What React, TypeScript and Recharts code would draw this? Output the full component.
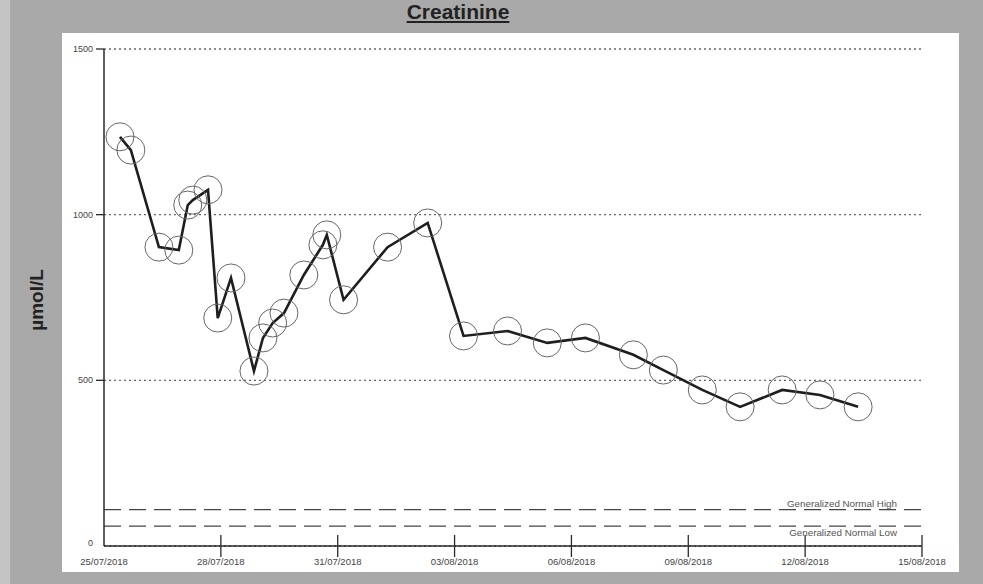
import { CartesianGrid, Line, LineChart, ReferenceLine, XAxis, YAxis } from 'recharts';

const W = 983;
const H = 584;
const FONT = '"Liberation Sans", Arial, sans-serif';
const INK = '#2a2a2a';

// days since 25/07/2018
const dayOffsets = [
  0.41, 0.69, 1.41, 1.92, 2.15, 2.28, 2.67, 2.92, 3.26, 3.85, 4.08, 4.33, 4.62, 5.13, 5.62, 5.72, 6.15, 7.28, 8.31,
  9.23, 10.36, 11.38, 12.36, 13.59, 14.36, 15.36, 16.33, 17.41, 18.38, 19.36,
];
const creatinine = [
  1235, 1195, 902, 893, 1029, 1044, 1075, 688, 809, 528, 628, 673, 703, 818, 909, 939, 743, 902, 975, 634, 649, 613, 628,
  577, 531, 471, 420, 471, 456, 420,
];

const xTicks = [0, 3, 6, 9, 12, 15, 18, 21];
const xTickLabels = ['25/07/2018', '28/07/2018', '31/07/2018', '03/08/2018', '06/08/2018', '09/08/2018', '12/08/2018', '15/08/2018'];
const yTicks = [0, 500, 1000, 1500];
const normalHigh = 110;
const normalLow = 60;

const data = dayOffsets.map((day, i) => ({ day, value: creatinine[i] }));

function XTick({ x, y, payload }: any) {
  const label = xTickLabels[xTicks.indexOf(payload.value)] ?? '';
  // y here = axis + tickSize(11) + tickMargin(4)
  return (
    <g>
      {payload.value !== 0 && <line x1={x} x2={x} y1={y - 26} y2={y - 4} stroke={INK} strokeWidth={1.3} />}
      <text x={x} y={y} dy={4} textAnchor="middle" fontSize={9.5} fill="#444" fontFamily={FONT}>
        {label}
      </text>
    </g>
  );
}

function YTick({ x, y, payload }: any) {
  // x here = axis - tickSize(8) - tickMargin(3)
  return (
    <g>
      {payload.value !== 0 && <line x1={x + 3} x2={x + 11} y1={y} y2={y} stroke={INK} strokeWidth={1.3} />}
      <text x={x} y={payload.value === 0 ? y - 3 : y} dy={3} textAnchor="end" fontSize={9} fill="#444" fontFamily={FONT}>
        {payload.value}
      </text>
    </g>
  );
}

function NormalLabel({ viewBox, text, above }: any) {
  const vx = viewBox.x + viewBox.width - 25;
  return (
    <text x={vx} y={viewBox.y + (above ? -3 : 10)} textAnchor="end" fontSize={9.8} fill="#555" fontFamily={FONT}>
      {text}
    </text>
  );
}

export default function App() {
  return (
    <div style={{ position: 'absolute', left: 0, top: 0, width: W, height: H, background: '#a9a9a9', overflow: 'hidden' }}>
      <div style={{ position: 'absolute', left: 0, top: 0, width: 10, height: H, background: '#c4c4c4' }} />
      <div style={{ position: 'absolute', left: 62, top: 33, width: 897, height: 539, background: '#ffffff' }} />
      <div
        style={{
          position: 'absolute',
          left: 358,
          width: 200,
          top: 0,
          textAlign: 'center',
          fontFamily: FONT,
          fontWeight: 'bold',
          fontSize: 21,
          textDecoration: 'underline',
          color: '#222',
        }}
      >
        Creatinine
      </div>
      <div
        style={{
          position: 'absolute',
          left: 37,
          top: 300,
          transform: 'translate(-50%, -50%) rotate(-90deg)',
          fontFamily: FONT,
          fontWeight: 'bold',
          fontSize: 19,
          color: '#222',
          whiteSpace: 'nowrap',
        }}
      >
        µmol/L
      </div>
      <div style={{ position: 'absolute', left: 0, top: 0 }}>
        <LineChart width={W} height={H} data={data} margin={{ top: 49, right: 61, left: 0, bottom: 0 }}>
          <CartesianGrid vertical={false} stroke="#666" strokeDasharray="2 3" strokeWidth={1.4} />
          <XAxis
            type="number"
            dataKey="day"
            domain={[0, 21]}
            ticks={xTicks}
            interval={0}
            height={38}
            tickSize={11}
            tickMargin={4}
            tickLine={false}
            tick={XTick}
            axisLine={{ stroke: INK, strokeWidth: 1.5 }}
          />
          <YAxis
            type="number"
            domain={[0, 1500]}
            ticks={yTicks}
            interval={0}
            width={104}
            tickSize={8}
            tickMargin={3}
            tickLine={false}
            tick={YTick}
            axisLine={{ stroke: INK, strokeWidth: 1.5 }}
          />
          <ReferenceLine
            y={normalHigh}
            stroke="#444"
            strokeWidth={1.2}
            strokeDasharray="17 8"
            label={(p: any) => <NormalLabel {...p} text="Generalized Normal High" above />}
          />
          <ReferenceLine
            y={normalLow}
            stroke="#444"
            strokeWidth={1.2}
            strokeDasharray="17 8"
            label={(p: any) => <NormalLabel {...p} text="Generalized Normal Low" />}
          />
          <Line
            type="linear"
            dataKey="value"
            stroke="#1e1e1e"
            strokeWidth={2.6}
            dot={{ r: 14, stroke: '#666', strokeWidth: 1, fill: 'none' }}
            activeDot={false}
            isAnimationActive={false}
          />
        </LineChart>
      </div>
    </div>
  );
}
